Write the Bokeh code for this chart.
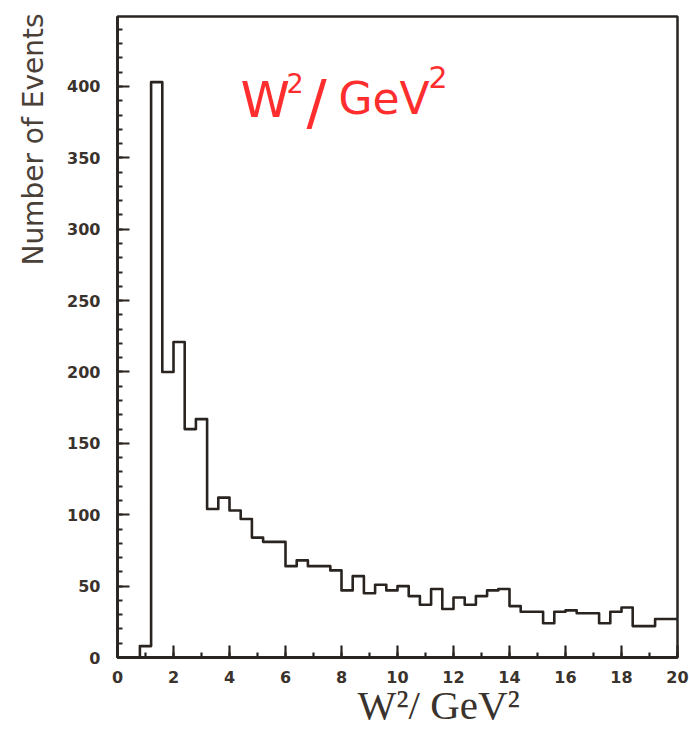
from bokeh.embed import file_html
from bokeh.models import Label, SingleIntervalTicker, Title
from bokeh.plotting import figure
from bokeh.resources import INLINE

# W^2 histogram: 0.4 GeV^2 bins from 0 to 20 GeV^2
bin_width = 0.4
bin_edges = [round(bin_width * i, 1) for i in range(51)]
counts = [
    0, 0, 8, 403, 200, 221, 160, 167, 104, 112,      # 0.0 - 4.0
    103, 97, 84, 81, 81, 64, 68, 64, 64, 61,         # 4.0 - 8.0
    47, 57, 45, 51, 47, 50, 43, 37, 48, 34,          # 8.0 - 12.0
    42, 37, 43, 47, 48, 36, 32, 32, 24, 32,          # 12.0 - 16.0
    33, 31, 31, 24, 32, 35, 22, 22, 27, 27,          # 16.0 - 20.0
]

x_ticks = [0, 2, 4, 6, 8, 10, 12, 14, 16, 18, 20]
y_ticks = [0, 50, 100, 150, 200, 250, 300, 350, 400]

ink = "#2a2420"
text_ink = "#3a322c"

p = figure(
    width=689, height=733,
    x_range=(0, 20), y_range=(0, 449),
    output_backend="svg", toolbar_location=None,
    min_border_left=117, min_border_right=12,
    min_border_top=16, min_border_bottom=76,
    background_fill_color="white", border_fill_color="white",
)
p.grid.visible = False
p.outline_line_color = ink
p.outline_line_width = 2.5

# step outline of the histogram
p.step(
    x=bin_edges, y=counts + [counts[-1]], mode="after",
    line_color=ink, line_width=2.6, line_join="round",
)

# axes: ticks point into the frame
p.xaxis.ticker = SingleIntervalTicker(interval=2, num_minor_ticks=2)
p.yaxis.ticker = SingleIntervalTicker(interval=50, num_minor_ticks=5)
p.xaxis.major_label_overrides = {t: str(t) for t in x_ticks}
p.yaxis.major_label_overrides = {t: str(t) for t in y_ticks}
for ax in (p.xaxis, p.yaxis):
    ax.axis_line_color = ink
    ax.axis_line_width = 2.8
    ax.major_tick_line_color = ink
    ax.major_tick_line_width = 2.2
    ax.minor_tick_line_color = ink
    ax.minor_tick_line_width = 2.2
    ax.major_tick_out = 0
    ax.minor_tick_out = 0
    ax.major_label_text_font = "DejaVu Sans"
    ax.major_label_text_font_style = "bold"
    ax.major_label_text_color = text_ink
p.xaxis.major_tick_in = 12
p.xaxis.minor_tick_in = 5
p.yaxis.major_tick_in = 12
p.yaxis.minor_tick_in = 5
p.xaxis.major_label_text_font_size = "16px"
p.yaxis.major_label_text_font_size = "16px"
p.xaxis.major_label_standoff = 13
p.yaxis.major_label_standoff = 17

# axis titles
p.add_layout(Title(
    text="Number of Events", align="right", offset=-3, standoff=29,
    text_font="DejaVu Sans", text_font_style="normal",
    text_font_size="28px", text_color="#4a4038",
), "left")
p.add_layout(Title(
    text="W²/ GeV²", align="left", offset=240, standoff=-12,
    text_font="Liberation Serif", text_font_style="normal",
    text_font_size="41px", text_color=text_ink,
), "below")

# red note written on the chart (positions are text centres)
red = "#ff2e2e"
note = [
    (4.39, 390.2, "W", "50px"),
    (6.04, 402.1, "2", "27px"),
    (6.75, 388.8, "/", "60px"),
    (7.89, 391.6, "GeV", "44px"),
    (11.11, 406.3, "2", "30px"),
]
for nx, ny, txt, size in note:
    p.add_layout(Label(x=nx, y=ny, text=txt, text_font="DejaVu Sans",
                       text_font_size=size, text_color=red,
                       text_baseline="middle"))

open("out.html", "w").write(file_html(p, INLINE))
